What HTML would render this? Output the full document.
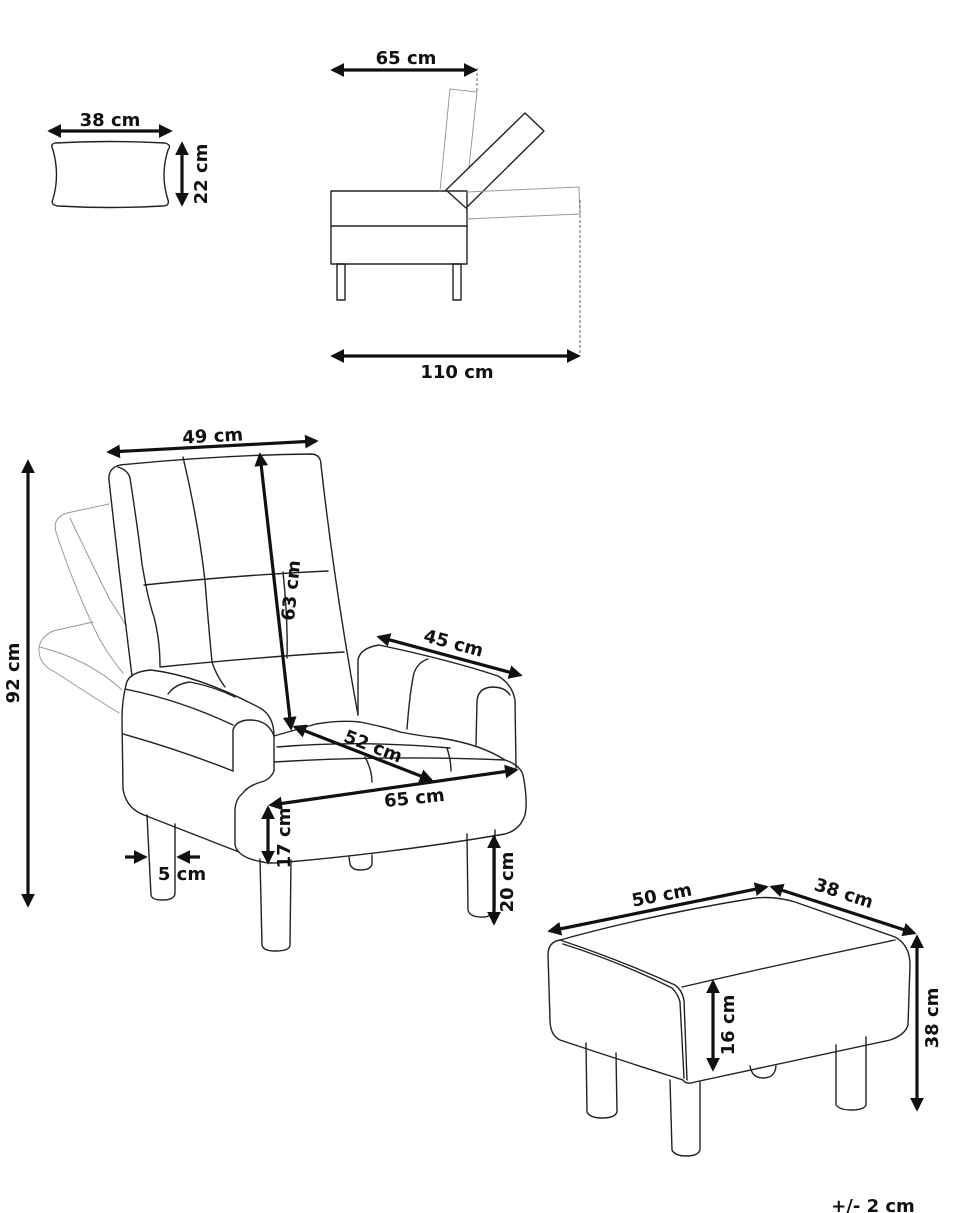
<!DOCTYPE html>
<html><head><meta charset="utf-8"><style>
html,body{margin:0;padding:0;background:#fff}
svg{display:block}
text{font-family:"DejaVu Sans","Liberation Sans",sans-serif;font-weight:bold;font-size:18px;fill:#111}
.l{fill:none;stroke:#222;stroke-width:1.4;stroke-linejoin:round;stroke-linecap:round}
.g{fill:none;stroke:#999;stroke-width:1;stroke-linecap:round}
.a{stroke:#111;stroke-width:3.2;fill:none}
</style></head><body>
<svg width="970" height="1213" viewBox="0 0 970 1213" xmlns="http://www.w3.org/2000/svg">
<defs>
<marker id="m" viewBox="0 0 10 10" refX="8" refY="5" markerWidth="4.3" markerHeight="4.3" orient="auto-start-reverse"><path d="M0,0 L10,5 L0,10 z" fill="#111"/></marker>
</defs>

<!-- pillow -->
<path class="l" d="M55,143 Q110,140 165,143 Q172,145 168,150 Q160,175 168,200 Q170,206 162,206 Q110,209 58,206 Q50,205 53,199 Q60,175 53,150 Q50,144 55,143 Z"/>
<line class="a" x1="50" y1="131" x2="170" y2="131" marker-start="url(#m)" marker-end="url(#m)"/>
<text x="110" y="126" text-anchor="middle">38 cm</text>
<line class="a" x1="182" y1="144" x2="182" y2="204" marker-start="url(#m)" marker-end="url(#m)"/>
<text transform="translate(207,174) rotate(-90)" text-anchor="middle">22 cm</text>

<!-- side view -->
<rect class="l" x="331" y="191" width="136" height="73"/>
<line class="l" x1="331" y1="226" x2="467" y2="226"/>
<rect class="l" x="337" y="264" width="8" height="36"/>
<rect class="l" x="453" y="264" width="8" height="36"/>
<path class="g" d="M440,191 L450,89 L477,92 L469,167"/>
<path class="l" d="M446,190 L525,113 L544,131 L466,208 Z"/>
<path class="g" d="M467,192 L579,187 L580,214 L467,219"/>
<line x1="477" y1="68" x2="477" y2="92" stroke="#666" stroke-dasharray="3,2"/>
<line x1="580" y1="200" x2="580" y2="356" stroke="#666" stroke-dasharray="3,2"/>
<line class="a" x1="333" y1="70" x2="475" y2="70" marker-start="url(#m)" marker-end="url(#m)"/>
<text x="406" y="64" text-anchor="middle">65 cm</text>
<line class="a" x1="333" y1="356" x2="578" y2="356" marker-start="url(#m)" marker-end="url(#m)"/>
<text x="457" y="378" text-anchor="middle">110 cm</text>

<!-- chair ghost -->
<path class="g" d="M109,504 L67,513 Q52,518 56,532 Q75,590 100,640 Q112,660 123,673"/>
<path class="g" d="M70,518 Q90,560 110,600 Q120,615 125,624"/>
<path class="g" d="M93,622 L53,631 Q38,638 39,652 Q40,665 55,672 Q90,695 119,713"/>
<path class="g" d="M40,647 Q90,660 122,690"/>

<!-- back -->
<path class="l" d="M132,676 Q120,580 109,480 Q108,468 120,465 Q220,455 312,454 Q321,455 321,465 Q335,590 358,715"/>
<path class="l" d="M118,467 Q128,470 130,478 Q138,530 142,564 Q148,600 154,617 Q160,640 160,666"/>
<path class="l" d="M144,585 Q240,575 328,571"/>
<path class="l" d="M160,667 Q260,657 344,652"/>
<path class="l" d="M183,457 Q198,520 205,581 Q208,620 212,662 Q216,675 225,687"/>
<path class="l" d="M283,572 Q288,620 287,658"/>

<!-- left arm -->
<path class="l" d="M126,685 Q128,672 151,670 Q200,676 260,708 Q274,716 274,736"/>
<path class="l" d="M126,685 Q122,700 122,720 L123,789 Q126,808 144,815 L239,852"/>
<path class="l" d="M125,689 Q180,700 233,725"/>
<path class="l" d="M123,734 Q180,750 233,771"/>
<path class="l" d="M168,694 Q175,684 190,682 Q215,687 235,697"/>
<path class="l" d="M233,771 L233,730 Q236,720 250,720 Q268,720 274,736 L274,771 Q270,780 261,782 Q248,786 243,793 Q234,800 235,815 L235,845 Q238,858 263,862"/>

<!-- seat -->
<path class="l" d="M274,762 Q390,755 505,760 Q520,765 523,775 Q528,800 525,815 Q520,830 505,834 Q400,852 288,862 Q268,864 263,862"/>
<path class="l" d="M274,736 Q295,730 316,724 Q340,720 360,722 Q385,727 400,732 Q420,736 440,738 Q480,744 505,760"/>
<path class="l" d="M277,747 Q360,740 450,748"/>
<path class="l" d="M365,757 Q372,770 372,782"/>
<path class="l" d="M447,748 Q451,760 451,771"/>

<!-- right arm -->
<path class="l" d="M358,715 L358,660 Q360,648 379,645 Q450,660 498,676 Q512,684 515,700 L516,768"/>
<path class="l" d="M407,729 Q410,690 414,673 Q418,662 428,659"/>
<path class="l" d="M476,745 L477,701 Q478,688 492,687 Q505,687 510,695"/>

<!-- legs -->
<path class="l" d="M147,815 L151,895 Q152,900 162,900 Q175,900 175,893 L175,824"/>
<path class="l" d="M260,859 L262,945 Q263,951 275,951 Q290,951 290,945 L291,860"/>
<path class="l" d="M467,834 L468,910 Q470,918 485,917 Q495,915 495,908 L495,830"/>
<path class="l" d="M349,857 L350,864 Q352,870 360,870 Q371,870 372,864 L372,855"/>

<!-- chair dims -->
<line class="a" x1="109" y1="452" x2="316" y2="441" marker-start="url(#m)" marker-end="url(#m)"/>
<text transform="translate(213,442) rotate(-3)" text-anchor="middle">49 cm</text>
<line class="a" x1="28" y1="462" x2="28" y2="905" marker-start="url(#m)" marker-end="url(#m)"/>
<text transform="translate(19,673) rotate(-90)" text-anchor="middle">92 cm</text>
<line class="a" x1="260" y1="455" x2="291" y2="728" marker-start="url(#m)" marker-end="url(#m)"/>
<text transform="translate(297,591) rotate(-84)" text-anchor="middle">63 cm</text>
<line class="a" x1="379" y1="637" x2="520" y2="675" marker-start="url(#m)" marker-end="url(#m)"/>
<text transform="translate(452,649) rotate(15)" text-anchor="middle">45 cm</text>
<line class="a" x1="295" y1="727" x2="431" y2="780" marker-start="url(#m)" marker-end="url(#m)"/>
<text transform="translate(371,752) rotate(21)" text-anchor="middle">52 cm</text>
<line class="a" x1="271" y1="805" x2="516" y2="770" marker-start="url(#m)" marker-end="url(#m)"/>
<text transform="translate(415,804) rotate(-6)" text-anchor="middle">65 cm</text>
<line class="a" x1="268" y1="808" x2="268" y2="862" marker-start="url(#m)" marker-end="url(#m)"/>
<text transform="translate(290,838) rotate(-90)" text-anchor="middle">17 cm</text>
<line class="a" x1="494" y1="837" x2="494" y2="923" marker-start="url(#m)" marker-end="url(#m)"/>
<text transform="translate(513,882) rotate(-90)" text-anchor="middle">20 cm</text>
<line class="a" x1="125" y1="857" x2="145" y2="857" marker-end="url(#m)"/>
<line class="a" x1="200" y1="857" x2="179" y2="857" marker-end="url(#m)"/>
<text x="182" y="880" text-anchor="middle">5 cm</text>

<!-- ottoman -->
<path class="l" d="M560,940 Q650,915 755,898 Q775,896 795,902 L895,937 Q910,945 910,965 L908,1025 Q905,1035 890,1040 L695,1082 Q686,1085 683,1080 Q620,1060 560,1040 Q550,1035 550,1020 L548,955 Q548,942 560,940 Z"/>
<path class="l" d="M560,940 Q620,960 675,985 Q682,990 684,1000 L687,1080"/>
<path class="l" d="M563,944 Q620,962 672,988 Q678,994 680,1002 L684,1078"/>
<path class="l" d="M682,987 Q790,962 895,940"/>
<path class="l" d="M586,1043 L587,1112 Q590,1118 602,1118 Q615,1118 617,1112 L616,1053"/>
<path class="l" d="M670,1080 L672,1150 Q675,1156 686,1156 Q698,1156 700,1150 L700,1082"/>
<path class="l" d="M836,1045 L836,1105 Q840,1110 851,1110 Q864,1110 866,1105 L866,1037"/>
<path class="l" d="M750,1066 Q752,1078 763,1078 Q775,1078 776,1066"/>
<line class="a" x1="550" y1="931" x2="766" y2="887" marker-start="url(#m)" marker-end="url(#m)"/>
<text transform="translate(663,901) rotate(-11)" text-anchor="middle">50 cm</text>
<line class="a" x1="772" y1="887" x2="914" y2="933" marker-start="url(#m)" marker-end="url(#m)"/>
<text transform="translate(842,899) rotate(18)" text-anchor="middle">38 cm</text>
<line class="a" x1="917" y1="937" x2="917" y2="1109" marker-start="url(#m)" marker-end="url(#m)"/>
<text transform="translate(938,1018) rotate(-90)" text-anchor="middle">38 cm</text>
<line class="a" x1="713" y1="982" x2="713" y2="1069" marker-start="url(#m)" marker-end="url(#m)"/>
<text transform="translate(734,1025) rotate(-90)" text-anchor="middle">16 cm</text>

<text x="873" y="1212" text-anchor="middle">+/- 2 cm</text>
</svg>
</body></html>
